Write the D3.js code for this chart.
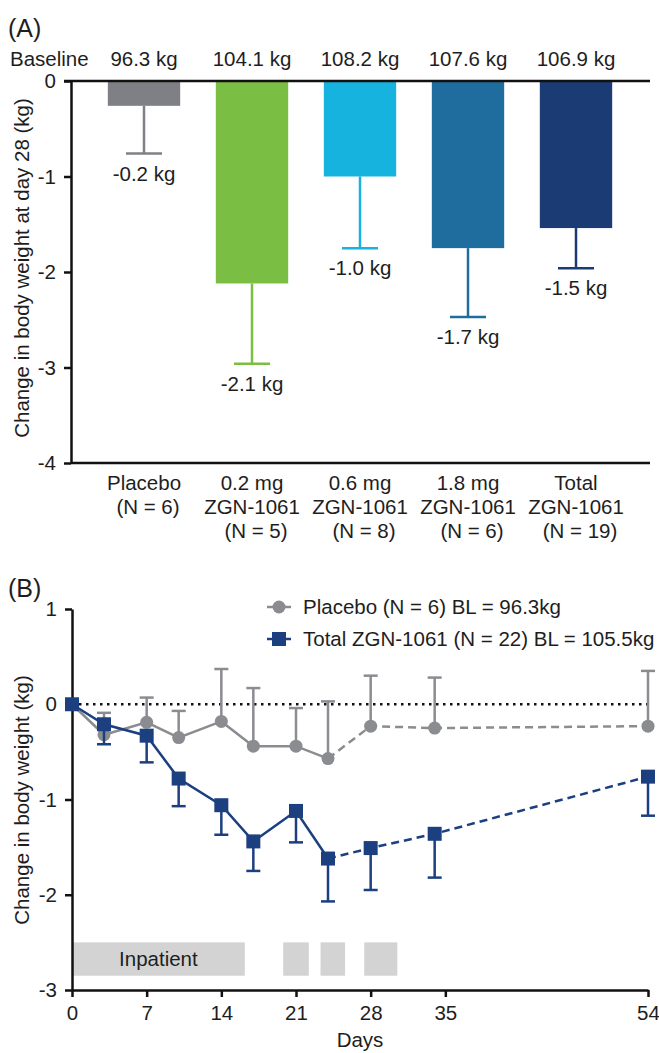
<!DOCTYPE html>
<html>
<head>
<meta charset="utf-8">
<script src="https://cdn.jsdelivr.net/npm/d3@7"></script>
<style>
body{margin:0;background:#fff}
svg text{font-family:"Liberation Sans",Arial,sans-serif;fill:#1e1e1e}
</style>
</head>
<body>
<div id="chart"></div>
<script>
// panel A data
const groups = ["Placebo","0.2 mg","0.6 mg","1.8 mg","Total"];
const groupLabels = [
    ["Placebo","(N = 6)"],
    ["0.2 mg","ZGN-1061","(N = 5)"],
    ["0.6 mg","ZGN-1061","(N = 8)"],
    ["1.8 mg","ZGN-1061","(N = 6)"],
    ["Total","ZGN-1061","(N = 19)"]
];
const baselines = ["96.3 kg","104.1 kg","108.2 kg","107.6 kg","106.9 kg"];
const meanChange = [-0.26,-2.12,-1.0,-1.75,-1.54];
const errLow = [-0.76,-2.96,-1.75,-2.47,-1.96];
const changeLabels = ["-0.2 kg","-2.1 kg","-1.0 kg","-1.7 kg","-1.5 kg"];
const barColors = ["#7e8086","#7abf43","#16b3df","#1f6c9f","#1a3b73"];
const ticksA = [0,-1,-2,-3,-4];

// panel B data
const days = [0,3,7,10,14,17,21,24,28,34,54];
const placebo = [0,-0.32,-0.19,-0.35,-0.18,-0.44,-0.44,-0.57,-0.23,-0.25,-0.23];
const placeboErr = [0,-0.09,0.07,-0.07,0.37,0.17,-0.04,0.03,0.30,0.28,0.35];
const total = [0,-0.21,-0.33,-0.78,-1.06,-1.44,-1.12,-1.62,-1.51,-1.36,-0.76];
const totalErr = [0,-0.42,-0.61,-1.07,-1.37,-1.75,-1.45,-2.07,-1.95,-1.82,-1.17];
const lastSolidDay = 24;
const dayTicks = [0,7,14,21,28,35,54];
const ticksB = [1,0,-1,-2,-3];
const inpatient = [[0,16.2],[19.8,22.2],[23.3,25.6],[27.4,30.5]];
const inpatientBand = [-2.5,-2.85];
const legendLabels = ["Placebo (N = 6) BL = 96.3kg","Total ZGN-1061 (N = 22) BL = 105.5kg"];

const placeboColor = "#8b8c90";
const totalColor = "#1c3f80";
const fs = 20.5;

let svg = d3.select("#chart").append("svg")
    .attr("width", 659)
    .attr("height", 1053);

function styleAxis(g){
    g.attr("font-family", null).attr("font-size", null);
    g.selectAll("path, line").attr("stroke", "#111").attr("stroke-width", 2.5);
    g.selectAll("text").style("font-size", fs + "px").attr("fill", "#1e1e1e");
}

// ---------- panel A ----------
function drawA(){
    let left = 71, right = 650;
    let y = d3.scaleLinear().domain([-4,0]).range([463,81]);
    let x = d3.scaleBand().domain(groups).range([90,630])
        .paddingInner(0.33).paddingOuter(0.165);
    let g = svg.append("g");

    g.append("text").attr("x", 8).attr("y", 37)
        .style("font-size", "25px").text("(A)");
    g.append("text").attr("x", 10).attr("y", 66)
        .style("font-size", fs + "px").text("Baseline");
    g.selectAll(".bl").data(baselines).enter().append("text")
        .attr("x", (d,i) => x(groups[i]) + x.bandwidth()/2)
        .attr("y", 66)
        .attr("text-anchor", "middle")
        .style("font-size", fs + "px")
        .text(d => d);

    g.selectAll(".bar").data(meanChange).enter().append("rect")
        .attr("x", (d,i) => x(groups[i]))
        .attr("y", y(0))
        .attr("width", x.bandwidth())
        .attr("height", d => y(d) - y(0))
        .attr("fill", (d,i) => barColors[i]);

    let cap = 18;
    groups.forEach((grp, i) => {
        let cx = x(grp) + x.bandwidth()/2;
        g.append("line")
            .attr("x1", cx).attr("x2", cx)
            .attr("y1", y(meanChange[i])).attr("y2", y(errLow[i]))
            .attr("stroke", barColors[i]).attr("stroke-width", 2.5);
        g.append("line")
            .attr("x1", cx - cap).attr("x2", cx + cap)
            .attr("y1", y(errLow[i])).attr("y2", y(errLow[i]))
            .attr("stroke", barColors[i]).attr("stroke-width", 2.5);
        g.append("text")
            .attr("x", cx).attr("y", y(errLow[i]) + 27)
            .attr("text-anchor", "middle")
            .style("font-size", fs + "px")
            .text(changeLabels[i]);
        let t = g.append("text")
            .attr("text-anchor", "middle")
            .style("font-size", fs + "px");
        groupLabels[i].forEach((s, j) => {
            t.append("tspan")
                .attr("x", cx + (j == groupLabels[i].length - 1 ? 4 : 0))
                .attr("y", 490 + j*24)
                .text(s);
        });
    });

    // zero line and bottom line
    g.append("line").attr("x1", left - 7).attr("x2", right)
        .attr("y1", y(0)).attr("y2", y(0))
        .attr("stroke", "#111").attr("stroke-width", 2.5);
    g.append("line").attr("x1", left).attr("x2", right)
        .attr("y1", y(-4)).attr("y2", y(-4))
        .attr("stroke", "#111").attr("stroke-width", 2.5);

    g.append("g")
        .attr("transform", "translate(" + left + ",0)")
        .call(d3.axisLeft(y).tickValues(ticksA).tickSize(7).tickSizeOuter(0)
            .tickPadding(8).tickFormat(d => String(d)))
        .call(styleAxis);

    g.append("text")
        .attr("transform", "translate(29,268) rotate(-90)")
        .attr("text-anchor", "middle")
        .style("font-size", fs + "px")
        .text("Change in body weight at day 28 (kg)");
}

// ---------- panel B ----------
function drawB(){
    let x = d3.scaleLinear().domain([0,54]).range([72,648]);
    let y = d3.scaleLinear().domain([-3,1]).range([990,609]);
    let g = svg.append("g");

    g.append("text").attr("x", 8).attr("y", 597)
        .style("font-size", "25px").text("(B)");

    // inpatient periods
    g.selectAll(".inp").data(inpatient).enter().append("rect")
        .attr("x", d => x(d[0]))
        .attr("width", d => x(d[1]) - x(d[0]))
        .attr("y", y(inpatientBand[0]))
        .attr("height", y(inpatientBand[1]) - y(inpatientBand[0]))
        .attr("fill", "#d3d3d3");
    g.append("text")
        .attr("x", (x(inpatient[0][0]) + x(inpatient[0][1]))/2)
        .attr("y", (y(inpatientBand[0]) + y(inpatientBand[1]))/2 + 7)
        .attr("text-anchor", "middle")
        .style("font-size", fs + "px")
        .text("Inpatient");

    // zero reference
    g.append("line")
        .attr("x1", x(0)).attr("x2", x(54))
        .attr("y1", y(0)).attr("y2", y(0))
        .attr("stroke", "#111").attr("stroke-width", 2.5)
        .attr("stroke-dasharray", "2.5,4.5");

    g.append("g")
        .attr("transform", "translate(0," + y(-3) + ")")
        .call(d3.axisBottom(x).tickValues(dayTicks).tickSize(7).tickSizeOuter(0).tickPadding(8))
        .call(styleAxis);
    g.append("g")
        .attr("transform", "translate(" + x(0) + ",0)")
        .call(d3.axisLeft(y).tickValues(ticksB).tickSize(7).tickSizeOuter(0)
            .tickPadding(8).tickFormat(d => String(d)))
        .call(styleAxis);

    g.append("text")
        .attr("x", (x(0) + x(54))/2).attr("y", 1047)
        .attr("text-anchor", "middle")
        .style("font-size", fs + "px").text("Days");
    g.append("text")
        .attr("transform", "translate(29,800) rotate(-90)")
        .attr("text-anchor", "middle")
        .style("font-size", fs + "px")
        .text("Change in body weight (kg)");

    let series = [
        {vals: placebo, err: placeboErr, color: placeboColor, shape: "circle"},
        {vals: total, err: totalErr, color: totalColor, shape: "square"}
    ];
    let line = d3.line().x(d => x(d[0])).y(d => y(d[1]));
    series.forEach(s => {
        let pts = days.map((d,i) => [d, s.vals[i]]);
        let solid = pts.filter(p => p[0] <= lastSolidDay);
        let dashed = pts.filter(p => p[0] >= lastSolidDay);
        // error bars
        days.forEach((d,i) => {
            if(d === 0) return;
            g.append("line")
                .attr("x1", x(d)).attr("x2", x(d))
                .attr("y1", y(s.vals[i])).attr("y2", y(s.err[i]))
                .attr("stroke", s.color).attr("stroke-width", 2.5);
            g.append("line")
                .attr("x1", x(d) - 7).attr("x2", x(d) + 7)
                .attr("y1", y(s.err[i])).attr("y2", y(s.err[i]))
                .attr("stroke", s.color).attr("stroke-width", 2.5);
        });
        g.append("path").attr("d", line(solid))
            .attr("fill", "none").attr("stroke", s.color).attr("stroke-width", 2.5);
        g.append("path").attr("d", line(dashed))
            .attr("fill", "none").attr("stroke", s.color).attr("stroke-width", 2.5)
            .attr("stroke-dasharray", "8,5");
        pts.forEach(p => {
            if(s.shape === "circle"){
                g.append("circle").attr("cx", x(p[0])).attr("cy", y(p[1]))
                    .attr("r", 6.5).attr("fill", s.color);
            } else {
                g.append("rect").attr("x", x(p[0]) - 7).attr("y", y(p[1]) - 7)
                    .attr("width", 14).attr("height", 14).attr("fill", s.color);
            }
        });
    });

    // legend
    let lg = g.append("g");
    let rows = [607, 639];
    series.forEach((s, i) => {
        lg.append("line").attr("x1", 267).attr("x2", 291)
            .attr("y1", rows[i]).attr("y2", rows[i])
            .attr("stroke", s.color).attr("stroke-width", 2.5);
        if(s.shape === "circle"){
            lg.append("circle").attr("cx", 279).attr("cy", rows[i]).attr("r", 6.5).attr("fill", s.color);
        } else {
            lg.append("rect").attr("x", 272).attr("y", rows[i] - 7)
                .attr("width", 14).attr("height", 14).attr("fill", s.color);
        }
        lg.append("text").attr("x", 303).attr("y", rows[i] + 7)
            .style("font-size", fs + "px")
            .text(legendLabels[i]);
    });
}

drawA();
drawB();
</script>
</body>
</html>
